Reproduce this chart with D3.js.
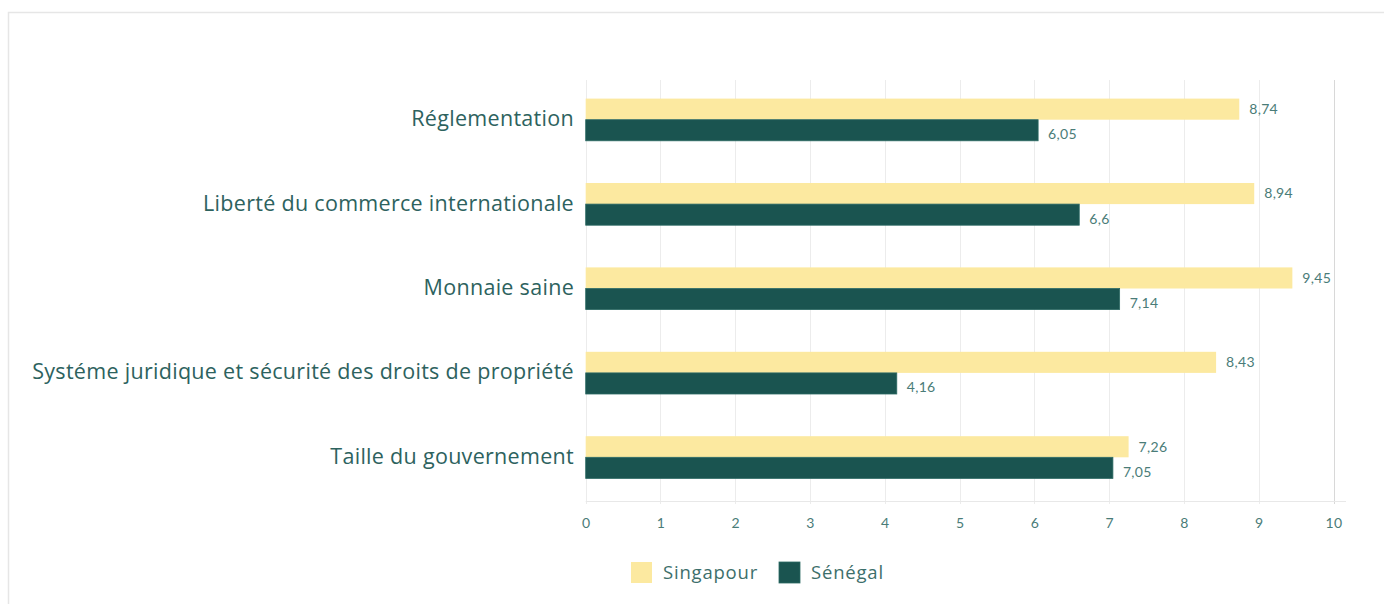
<!DOCTYPE html>
<html>
<head>
<meta charset="utf-8">
<script src="https://cdn.jsdelivr.net/npm/d3@7"></script>
<style>
  html, body { margin: 0; padding: 0; background: #ffffff; }
  svg { display: block; }
</style>
</head>
<body>
<svg id="chart" width="1384" height="604"></svg>
<script>
// ---- data ----
const categories = [
  "Réglementation",
  "Liberté du commerce internationale",
  "Monnaie saine",
  "Systéme juridique et sécurité des droits de propriété",
  "Taille du gouvernement"
];
const seriesNames = ["Singapour", "Sénégal"];
const singapour = [8.74, 8.94, 9.45, 8.43, 7.26];
const senegal = [6.05, 6.6, 7.14, 4.16, 7.05];
const xTicks = [0, 1, 2, 3, 4, 5, 6, 7, 8, 9, 10];

const colors = { "Singapour": "#fce9a0", "Sénégal": "#1a5450" };
const valuesBySeries = { "Singapour": singapour, "Sénégal": senegal };

const svg = d3.select("#chart");

// card border
svg.append("path")
  .attr("d", "M8.5,604 L8.5,12.5 L1384,12.5")
  .attr("fill", "none").attr("stroke", "#e6e6e6").attr("stroke-width", 1.5);

const x = d3.scaleLinear().domain([0, 10]).range([585.7, 1333.5]);
const gridTop = 80, gridBottom = 501;
const y0 = d3.scaleBand().domain(categories).range([77.5, 499.5]).paddingInner(0.5).paddingOuter(0.25);
const y1 = d3.scaleBand().domain(seriesNames).range([0, y0.bandwidth()]);

// gridlines
svg.append("g").selectAll("line").data(xTicks).join("line")
  .attr("x1", d => Math.round(x(d)) + 0.5).attr("x2", d => Math.round(x(d)) + 0.5)
  .attr("y1", gridTop).attr("y2", gridBottom + 3)
  .attr("stroke", d => d === 10 ? "#d8d8d8" : "#ececec").attr("stroke-width", 1);

// bottom axis line
svg.append("line")
  .attr("x1", x(0)).attr("x2", 1346).attr("y1", gridBottom + 0.5).attr("y2", gridBottom + 0.5)
  .attr("stroke", "#e8e8e8");

// tick labels via d3 axis
const axis = d3.axisBottom(x).tickValues(xTicks).tickSize(0).tickPadding(0).tickFormat(d3.format("d"));
const gAxis = svg.append("g").attr("transform", `translate(0,${gridBottom + 17})`).call(axis);
gAxis.select(".domain").remove();
gAxis.selectAll("text")
  .attr("fill", "#4a7c78").attr("font-family", "Lato, 'Open Sans', sans-serif")
  .attr("font-size", 14).attr("letter-spacing", 0.3).attr("dy", "0.71em");

// bars
const groups = svg.append("g").selectAll("g").data(categories).join("g")
  .attr("transform", d => `translate(0,${y0(d)})`);

seriesNames.forEach(s => {
  groups.append("rect")
    .attr("x", x(0))
    .attr("y", y1(s))
    .attr("width", (d, i) => x(valuesBySeries[s][i]) - x(0))
    .attr("height", y1.bandwidth())
    .attr("fill", colors[s])
    .attr("stroke", s === "Sénégal" ? "#2c6a63" : "none")
    .attr("stroke-width", s === "Sénégal" ? 0.8 : 0);

  groups.append("text")
    .attr("x", (d, i) => x(valuesBySeries[s][i]) + 10)
    .attr("y", y1(s) + y1.bandwidth() / 2 + (s === "Sénégal" ? 4 : 0))
    .attr("dy", "0.35em")
    .attr("fill", "#4a7c78")
    .attr("font-family", "Lato, 'Open Sans', sans-serif")
    .attr("font-size", 14)
    .attr("letter-spacing", 0.3)
    .text((d, i) => String(valuesBySeries[s][i]).replace(".", ","));
});

// category labels
svg.append("g").selectAll("text").data(categories).join("text")
  .attr("x", 574)
  .attr("y", d => y0(d) + y0.bandwidth() / 2 - 1)
  .attr("dy", "0.35em")
  .attr("text-anchor", "end")
  .attr("fill", "#2d625e")
  .attr("font-family", "'Open Sans', Lato, sans-serif")
  .attr("font-size", 21.5)
  .attr("letter-spacing", 0.3)
  .text(d => d);

// legend
const legend = svg.append("g");
const legendX = [631, 779];
seriesNames.forEach((s, i) => {
  legend.append("rect")
    .attr("x", legendX[i]).attr("y", 562).attr("width", 21).attr("height", 21)
    .attr("fill", colors[s])
    .attr("stroke", s === "Sénégal" ? "#2c6a63" : "none").attr("stroke-width", 0.8);
  legend.append("text")
    .attr("x", legendX[i] + 32).attr("y", 572.5).attr("dy", "0.35em")
    .attr("fill", "#3d6f6b")
    .attr("font-family", "'Open Sans', Lato, sans-serif")
    .attr("font-size", 18.5)
    .attr("letter-spacing", 0.8)
    .text(s);
});
</script>
</body>
</html>
